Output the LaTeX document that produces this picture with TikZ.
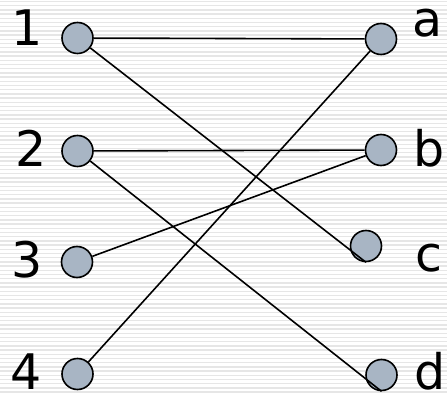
\documentclass[tikz,border=0pt]{standalone}
\usepackage{fontspec}
\setmainfont{DejaVu Sans}
\definecolor{vtx}{RGB}{168,181,196}
\definecolor{stripe}{RGB}{230,230,230}
\begin{document}
\begin{tikzpicture}[x=1pt,y=-1pt,
  vertex/.style={circle,draw=black,line width=1.6pt,fill=vtx,minimum size=31pt,inner sep=0pt},
  lbl/.style={anchor=base,inner sep=0pt,font=\fontsize{49}{49}\selectfont},
  edge/.style={line width=1.6pt,black}]
  % page and striped backdrop
  \fill[white] (0,0) rectangle (447,395);
  \useasboundingbox (0,0) rectangle (447,395);
  \foreach \k in {0,...,93} {
    \draw[stripe,line width=1.4pt] (0,{1.5+4.2*\k}) -- (447,{1.5+4.2*\k});
  }
  % left vertices
  \node[vertex] (n1) at (77.5,38) {};
  \node[vertex] (n2) at (77.5,151) {};
  \node[vertex] (n3) at (77,262) {};
  \node[vertex] (n4) at (77.5,374) {};
  % right vertices
  \node[vertex] (a) at (381,39) {};
  \node[vertex] (b) at (381,150) {};
  \node[vertex] (c) at (366,246) {};
  \node[vertex] (d) at (381.5,375) {};
  % labels
  \node[lbl] (l1) at (27,46) {1};
  \node[lbl] (l2) at (31.5,166.5) {2};
  \node[lbl] (l3) at (27,278) {3};
  \node[lbl] (l4) at (26,389.5) {4};
  \node[lbl] (la) at (427.5,37) {a};
  \node[lbl] (lb) at (429,166.5) {b};
  \node[lbl] (lc) at (429,271.5) {c};
  \node[lbl] (ld) at (430.5,389.5) {d};
  % edges
  \draw[edge] (n1) -- (a);
  \draw[edge] (n2) -- (b);
  \draw[edge] (n3) -- (b);
  \draw[edge] (n4) -- (a);
  \draw[edge] (n1) -- (c.south);
  \draw[edge] (n2) -- (d.south);
\end{tikzpicture}
\end{document}
